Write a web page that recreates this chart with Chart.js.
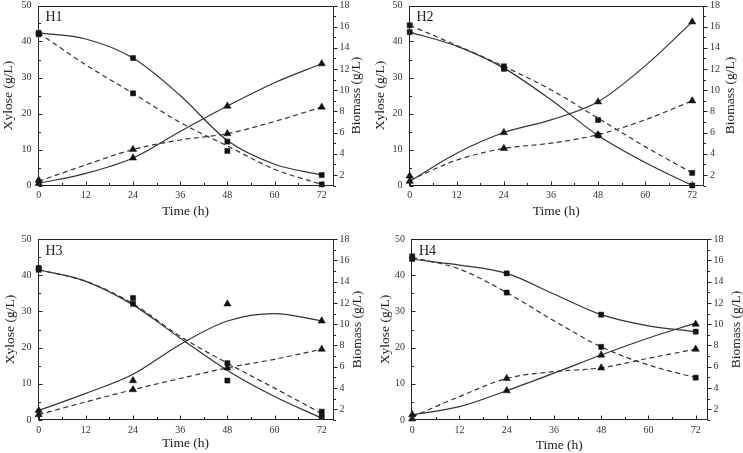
<!DOCTYPE html>
<html>
<head>
<meta charset="utf-8">
<script src="https://cdn.jsdelivr.net/npm/chart.js@4.4.0/dist/chart.umd.min.js"></script>
<style>
  body { margin: 0; background: #fff; }
  #wrap { position: relative; width: 743px; height: 453px; overflow: hidden; }
  canvas { position: absolute; }
</style>
</head>
<body>
<div id="wrap">
  <canvas id="c1" width="372" height="226" style="left:0;top:0"></canvas>
  <canvas id="c2" width="371" height="226" style="left:372px;top:0"></canvas>
  <canvas id="c3" width="372" height="227" style="left:0;top:226px"></canvas>
  <canvas id="c4" width="371" height="227" style="left:372px;top:226px"></canvas>
</div>
<script>
// sampling times (h) and times at which the fitted curves were read
const sampleTimes = [0, 24, 48, 72];
const fitTimes = [0, 12, 24, 36, 48, 60, 72];

const timeTicks = [0, 6, 12, 18, 24, 30, 36, 42, 48, 54, 60, 66, 72];
const xyloseTicks = [0, 5, 10, 15, 20, 25, 30, 35, 40, 45, 50];
const biomassTicks = [1, 2, 3, 4, 5, 6, 7, 8, 9, 10, 11, 12, 13, 14, 15, 16, 17, 18];

const panelNames = ["H1", "H2", "H3", "H4"];

// H1
const h1XylSolidPts = [42.4, 35.4, 12.2, 2.9];
const h1XylDashPts = [42.0, 25.6, 9.6, 0.3];
const h1BioSolidPts = [1.2, 3.6, 8.5, 12.5];
const h1BioDashPts = [1.5, 4.4, 5.9, 8.4];
const h1XylSolidFit = [42.4, 40.7, 35.4, 25.0, 12.5, 5.9, 2.9];
const h1XylDashFit = [42.4, 33.5, 25.6, 17.5, 11.0, 4.5, 0.3];
const h1BioSolidFit = [1.2, 2.15, 3.6, 6.1, 8.5, 10.7, 12.5];
const h1BioDashFit = [1.4, 2.95, 4.4, 5.3, 5.9, 7.05, 8.4];

// H2
const h2XylSolidPts = [42.6, 32.4, 13.9, 0.0];
const h2XylDashPts = [44.5, 33.1, 18.2, 3.5];
const h2BioSolidPts = [1.4, 6.0, 8.9, 16.45];
const h2BioDashPts = [1.9, 4.5, 5.8, 9.0];
const h2XylSolidFit = [42.6, 38.7, 32.6, 23.8, 13.9, 6.4, 0.0];
const h2XylDashFit = [44.5, 38.9, 33.1, 26.6, 18.7, 10.8, 3.5];
const h2BioSolidFit = [1.4, 4.05, 6.0, 7.2, 8.9, 12.3, 16.45];
const h2BioDashFit = [1.5, 3.4, 4.5, 5.0, 5.8, 7.2, 9.0];

// H3
const h3XylSolidPts = [41.5, 32.1, 10.9, 0.9];
const h3XylDashPts = [42.0, 33.7, 15.7, 2.3];
const h3BioSolidPts = [1.9, 4.7, 11.9, 10.3];
const h3BioDashPts = [1.5, 3.85, 5.9, 7.65];
const h3XylSolidFit = [41.5, 38.3, 31.8, 22.6, 13.7, 6.5, 0.5];
const h3XylDashFit = [41.5, 38.3, 32.1, 23.1, 15.7, 8.8, 1.8];
const h3BioSolidFit = [1.9, 3.5, 5.3, 8.1, 10.3, 11.0, 10.3];
const h3BioDashFit = [1.5, 2.7, 3.85, 4.9, 5.9, 6.7, 7.65];

// H4
const h4XylSolidPts = [44.5, 40.5, 29.1, 24.4];
const h4XylDashPts = [45.2, 35.2, 20.2, 11.7];
const h4BioSolidPts = [1.5, 3.75, 7.1, 10.0];
const h4BioDashPts = [1.1, 4.9, 5.9, 7.65];
const h4XylSolidFit = [44.4, 42.8, 40.5, 34.8, 29.1, 26.0, 24.4];
const h4XylDashFit = [44.9, 41.7, 35.2, 27.4, 20.2, 15.2, 11.7];
const h4BioSolidFit = [1.5, 2.25, 3.75, 5.4, 7.1, 8.7, 10.1];
const h4BioDashFit = [1.3, 3.2, 4.9, 5.55, 5.9, 6.8, 7.65];

const panelData = [
  [h1XylSolidPts, h1XylDashPts, h1BioSolidPts, h1BioDashPts, h1XylSolidFit, h1XylDashFit, h1BioSolidFit, h1BioDashFit],
  [h2XylSolidPts, h2XylDashPts, h2BioSolidPts, h2BioDashPts, h2XylSolidFit, h2XylDashFit, h2BioSolidFit, h2BioDashFit],
  [h3XylSolidPts, h3XylDashPts, h3BioSolidPts, h3BioDashPts, h3XylSolidFit, h3XylDashFit, h3BioSolidFit, h3BioDashFit],
  [h4XylSolidPts, h4XylDashPts, h4BioSolidPts, h4BioDashPts, h4XylSolidFit, h4XylDashFit, h4BioSolidFit, h4BioDashFit],
];

// box placement of each panel inside its canvas
const panelLayout = [
  { pad: { left: 1.8, right: 8.8, top: 5.5, bottom: 7.5 }, yW: 35.7, y1W: 29.7, xH: 33 },
  { pad: { left: 1.5, right: 5.5, top: 5.5, bottom: 7.5 }, yW: 35, y1W: 33.5, xH: 33 },
  { pad: { left: 3.5, right: 7.5, top: 13, bottom: 2.5 }, yW: 34, y1W: 31, xH: 30.5 },
  { pad: { left: 6.5, right: 0, top: 13, bottom: 0.5 }, yW: 32.5, y1W: 35.5, xH: 32.5 },
];

const serif = "'Liberation Serif', 'Times New Roman', serif";
const ink = "#222";
const titleSize = 13.5;

function pairs(xs, ys) {
  return xs.map((x, i) => ({ x: x, y: ys[i] }));
}

const framePlugin = {
  id: "frame",
  afterDraw(chart, args, opts) {
    const ctx = chart.ctx;
    const a = chart.chartArea;
    const L = Math.round(a.left) + 0.5;
    const R = Math.round(a.right) - 0.5;
    const T = Math.round(a.top) + 0.5;
    const B = Math.round(a.bottom) - 0.5;
    ctx.save();
    ctx.strokeStyle = ink;
    ctx.lineWidth = 1;
    ctx.strokeRect(L, T, R - L, B - T);
    ctx.beginPath();
    const x = chart.scales.x;
    x.ticks.forEach((t) => {
      const px = Math.round(x.getPixelForValue(t.value)) + 0.5;
      const len = t.value % 12 === 0 ? 4 : 2.5;
      ctx.moveTo(px, B);
      ctx.lineTo(px, B - len);
    });
    const y = chart.scales.y;
    y.ticks.forEach((t) => {
      const py = Math.round(y.getPixelForValue(t.value)) + 0.5;
      const len = t.value % 10 === 0 ? 4 : 2.5;
      ctx.moveTo(L, py);
      ctx.lineTo(L + len, py);
    });
    const y1 = chart.scales.y1;
    y1.ticks.forEach((t) => {
      const py = Math.round(y1.getPixelForValue(t.value)) + 0.5;
      const len = t.value % 2 === 0 ? 4 : 2.5;
      ctx.moveTo(R, py);
      ctx.lineTo(R + len, py);
    });
    ctx.stroke();

    ctx.fillStyle = ink;
    ctx.font = "14px " + serif;
    ctx.textBaseline = "middle";
    ctx.fillText(opts.label, a.left + 8, a.top + 12);

    // right axis title reads bottom to top, like the left one
    ctx.font = titleSize + "px " + serif;
    ctx.textAlign = "center";
    ctx.translate(y1.right - titleSize / 2, (a.top + a.bottom) / 2);
    ctx.rotate(-Math.PI / 2);
    ctx.fillText(opts.rightTitle, 0, 0);
    ctx.restore();
  },
};

function pointSet(xs, ys, shape, axis) {
  return {
    data: pairs(xs, ys),
    yAxisID: axis,
    showLine: false,
    pointStyle: shape,
    pointRadius: shape === "triangle" ? 4.2 : 3.6,
    pointBackgroundColor: "#111",
    pointBorderColor: "#111",
    pointBorderWidth: 0.5,
    clip: false,
  };
}

function curveSet(ys, axis, dashed) {
  return {
    data: pairs(fitTimes, ys),
    yAxisID: axis,
    showLine: true,
    pointRadius: 0,
    borderColor: "#333",
    borderWidth: 1.2,
    borderDash: dashed ? [5, 3.5] : [],
    cubicInterpolationMode: "monotone",
    clip: false,
  };
}

function fixedTicks(list) {
  return (scale) => {
    scale.ticks = list.map((v) => ({ value: v }));
  };
}

function makePanel(idx) {
  const d = panelData[idx];
  const lay = panelLayout[idx];
  const tickFont = { family: serif, size: 10, lineHeight: 1.2 };
  const titleFont = { family: serif, size: titleSize, lineHeight: 1 };
  new Chart(document.getElementById("c" + (idx + 1)), {
    type: "scatter",
    data: {
      datasets: [
        pointSet(sampleTimes, d[0], "rect", "y"),
        pointSet(sampleTimes, d[1], "rect", "y"),
        pointSet(sampleTimes, d[2], "triangle", "y1"),
        pointSet(sampleTimes, d[3], "triangle", "y1"),
        curveSet(d[4], "y", false),
        curveSet(d[5], "y", true),
        curveSet(d[6], "y1", false),
        curveSet(d[7], "y1", true),
      ],
    },
    options: {
      responsive: false,
      animation: false,
      events: [],
      layout: { padding: lay.pad },
      plugins: {
        legend: { display: false },
        tooltip: { enabled: false },
        frame: { label: panelNames[idx], rightTitle: "Biomass (g/L)" },
      },
      scales: {
        x: {
          type: "linear",
          min: -0.3,
          max: 75,
          afterBuildTicks: fixedTicks(timeTicks),
          afterFit: (s) => { s.height = lay.xH; s.paddingLeft = 0; s.paddingRight = 0; },
          grid: { display: false, drawTicks: false },
          border: { display: false },
          ticks: {
            font: tickFont,
            color: "#333",
            padding: 4,
            maxRotation: 0,
            autoSkip: false,
            callback: (v) => (v % 12 === 0 ? String(v) : ""),
          },
          title: { display: true, text: "Time (h)", font: titleFont, color: ink, padding: 0 },
        },
        y: {
          type: "linear",
          position: "left",
          min: 0,
          max: 50,
          afterBuildTicks: fixedTicks(xyloseTicks),
          afterFit: (s) => { s.width = lay.yW; s.paddingTop = 0; s.paddingBottom = 0; },
          grid: { display: false, drawTicks: false },
          border: { display: false },
          ticks: {
            font: tickFont,
            color: "#333",
            padding: 6,
            autoSkip: false,
            callback: (v) => (v % 10 === 0 ? String(v) : ""),
          },
          title: { display: true, text: "Xylose (g/L)", font: titleFont, color: ink, padding: 0 },
        },
        y1: {
          type: "linear",
          position: "right",
          min: 1,
          max: 18,
          afterBuildTicks: fixedTicks(biomassTicks),
          afterFit: (s) => { s.width = lay.y1W; s.paddingTop = 0; s.paddingBottom = 0; },
          grid: { display: false, drawTicks: false },
          border: { display: false },
          ticks: {
            font: tickFont,
            color: "#333",
            padding: 6,
            autoSkip: false,
            callback: (v) => (v % 2 === 0 ? String(v) : ""),
          },
          title: { display: false },
        },
      },
    },
    plugins: [framePlugin],
  });
}

[0, 1, 2, 3].forEach(makePanel);
</script>
</body>
</html>
